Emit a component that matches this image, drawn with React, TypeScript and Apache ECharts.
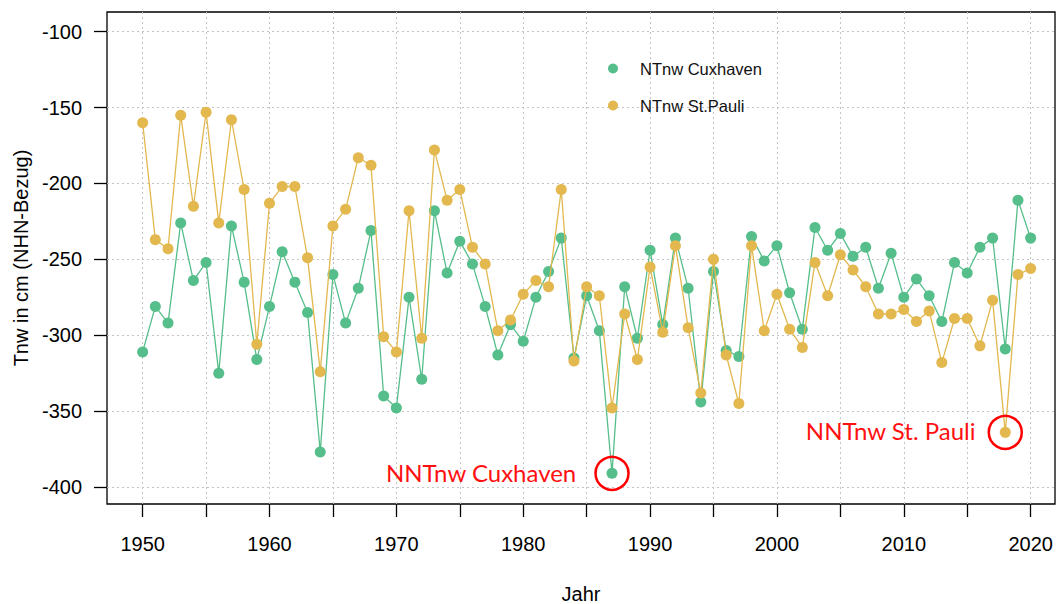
import React, { useEffect, useRef } from "react";
import * as echarts from "echarts";

const years: number[] = Array.from({ length: 71 }, (_, i) => 1950 + i);

const cuxhaven: number[] = [
  -311, -281, -292, -226, -264, -252, -325, -228, -265, -316,
  -281, -245, -265, -285, -377, -260, -292, -269, -231, -340,
  -348, -275, -329, -218, -259, -238, -253, -281, -313, -293,
  -304, -275, -258, -236, -315, -274, -297, -391, -268, -302,
  -244, -293, -236, -269, -344, -258, -310, -314, -235, -251,
  -241, -272, -296, -229, -244, -233, -248, -242, -269, -246,
  -275, -263, -274, -291, -252, -259, -242, -236, -309, -211,
  -236,
];

const stPauli: number[] = [
  -160, -237, -243, -155, -215, -153, -226, -158, -204, -306,
  -213, -202, -202, -249, -324, -228, -217, -183, -188, -301,
  -311, -218, -302, -178, -211, -204, -242, -253, -297, -290,
  -273, -264, -268, -204, -317, -268, -274, -348, -286, -316,
  -255, -298, -241, -295, -338, -250, -313, -345, -241, -297,
  -273, -296, -308, -252, -274, -247, -257, -268, -286, -286,
  -283, -291, -284, -318, -289, -289, -307, -277, -364, -260,
  -256,
];

const seriesNames = ["NTnw Cuxhaven", "NTnw St.Pauli"];
const xTickValues = [1950, 1955, 1960, 1965, 1970, 1975, 1980, 1985, 1990, 1995, 2000, 2005, 2010, 2015, 2020];
const xLabelValues = [1950, 1960, 1970, 1980, 1990, 2000, 2010, 2020];
const yTickValues = [-100, -150, -200, -250, -300, -350, -400];

const minCuxYear = 1987;
const minCuxValue = -391;
const minPauliYear = 2018;
const minPauliValue = -364;
const minCuxLabel = "NNTnw Cuxhaven";
const minPauliLabel = "NNTnw St. Pauli";

const GREEN = "#55be8a";
const GOLD = "#e2b84f";
const FONT = "'Liberation Sans', Arial, Helvetica, sans-serif";

export default function App() {
  const ref = useRef<HTMLDivElement>(null);
  useEffect(() => {
    if (!ref.current) return;
    const chart = echarts.init(ref.current, null, { renderer: "svg" });
    const gridLineStyle = { color: "#c4c4c4", type: [2, 3] as any, width: 1 };
    const circleStyle = { color: "rgba(0,0,0,0)", borderColor: "#ff0000", borderWidth: 2.5 };
    const annLabel = {
      show: true,
      position: "left" as const,
      color: "#ff1010",
      fontFamily: "Lato, 'Open Sans', sans-serif",
      fontSize: 24,
    };
    chart.setOption({
      animation: false,
      backgroundColor: "#ffffff",
      grid: {
        left: 107,
        right: 2,
        top: 12,
        bottom: 100,
        containLabel: false,
        outerBoundsMode: "none",
        show: true,
        borderColor: "#000",
        borderWidth: 1.3,
        backgroundColor: "transparent",
      },
      legend: {
        orient: "vertical",
        left: 603,
        top: 55,
        icon: "circle",
        itemWidth: 44,
        itemHeight: 10,
        itemGap: 20,
        data: seriesNames,
        textStyle: { fontSize: 16.5, color: "#111", fontFamily: FONT },
      },
      xAxis: {
        type: "value",
        min: 1947.19,
        max: 2021.92,
        name: "Jahr",
        nameLocation: "middle",
        nameGap: 80,
        nameTextStyle: { fontSize: 20, color: "#000", fontFamily: FONT },
        axisLine: { show: false },
        axisTick: { show: true, length: 13, customValues: xTickValues, lineStyle: { color: "#000", width: 1.3 } },
        axisLabel: {
          show: true,
          customValues: xLabelValues,
          margin: 30,
          fontSize: 20,
          color: "#000",
          fontFamily: FONT,
          formatter: (v: number) => String(v),
        },
        splitLine: { show: false },
      },
      yAxis: {
        type: "value",
        min: -411.2,
        max: -87,
        name: "Tnw in cm (NHN-Bezug)",
        nameLocation: "middle",
        nameGap: 75,
        nameTextStyle: { fontSize: 20, color: "#000", fontFamily: FONT },
        axisLine: { show: false },
        axisTick: { show: true, length: 13, customValues: yTickValues, lineStyle: { color: "#000", width: 1.3 } },
        axisLabel: {
          show: true,
          customValues: yTickValues,
          margin: 25,
          fontSize: 20,
          color: "#000",
          fontFamily: FONT,
          formatter: (v: number) => String(v),
        },
        splitLine: { show: false },
      },
      series: [
        {
          name: seriesNames[0],
          type: "line",
          data: years.map((y, i) => [y, cuxhaven[i]]),
          symbol: "circle",
          symbolSize: 11,
          lineStyle: { color: GREEN, width: 1.3 },
          itemStyle: { color: GREEN },
          z: 3,
          markLine: {
            silent: true,
            symbol: "none",
            label: { show: false },
            lineStyle: gridLineStyle,
            z: 1,
            data: [
              ...xTickValues.map((v) => ({ xAxis: v })),
              ...yTickValues.map((v) => ({ yAxis: v })),
            ],
          },
          markPoint: {
            symbol: "circle",
            symbolSize: 33,
            itemStyle: circleStyle,
            data: [
              {
                coord: [minCuxYear, minCuxValue],
                label: { ...annLabel, formatter: minCuxLabel, distance: 18, offset: [0, -1] },
              },
            ],
          },
        },
        {
          name: seriesNames[1],
          type: "line",
          data: years.map((y, i) => [y, stPauli[i]]),
          symbol: "circle",
          symbolSize: 11,
          lineStyle: { color: GOLD, width: 1.3 },
          itemStyle: { color: GOLD },
          z: 4,
          markPoint: {
            symbol: "circle",
            symbolSize: 33,
            itemStyle: circleStyle,
            data: [
              {
                coord: [minPauliYear, minPauliValue],
                label: { ...annLabel, formatter: minPauliLabel, distance: 12, offset: [0, -2] },
              },
            ],
          },
        },
      ],
    });
    return () => chart.dispose();
  }, []);
  return (
    <div
      ref={ref}
      style={{ position: "fixed", left: 0, top: 0, width: 1057, height: 604, background: "#fff" }}
    />
  );
}
